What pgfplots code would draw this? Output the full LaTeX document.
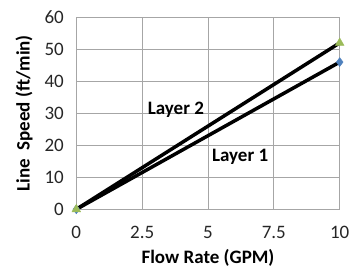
\documentclass[border=0pt]{standalone}
\usepackage{pgfplots}
\pgfplotsset{compat=1.18}
\usepackage{fontspec}
\setmainfont{Carlito}
\definecolor{gridc}{RGB}{166,166,166}
\definecolor{mblue}{RGB}{79,129,189}
\definecolor{mgreen}{RGB}{155,187,89}
\begin{document}
\fontsize{19}{22}\selectfont
\begin{tikzpicture}[x=1pt,y=1pt]
\path[use as bounding box] (-76.3pt,-58.7pt) rectangle (281.7pt,209.3pt);
\begin{axis}[
  at={(0,0)}, anchor=south west,
  scale only axis, width=263.4pt, height=192pt,
  xmin=0, xmax=10, ymin=0, ymax=60,
  xtick={0,2.5,5,7.5,10}, ytick={0,10,...,60},
  xticklabels={0,2.5,5,7.5,10},
  grid=major, major grid style={gridc, line width=0.9pt},
  axis line style={draw=none},
  tick style={draw=none},
  ticklabel style={font=\fontsize{19}{22}\selectfont, text=black!85},
  /pgf/number format/assume math mode=true,
  xticklabel style={anchor=center, yshift=-23.5pt},
  yticklabel style={xshift=-6pt},
  xlabel={\textbf{Flow Rate (GPM)}},
  ylabel={\textbf{Line~ Speed (ft/min)}},
  label style={font=\fontsize{19}{22}\selectfont\bfseries},
  xlabel style={at={(axis description cs:0.5,0)}, anchor=center, yshift=-48.5pt},
  ylabel style={yshift=-1pt},
  clip=false,
]
\addplot[only marks, mark=diamond*, mark size=4.5pt, color=mblue] coordinates {(0,0) (10,46)};
\addplot[only marks, mark=triangle*, mark size=5pt, color=mgreen] coordinates {(0,0) (10,52)};
\addplot[black, line width=3.5pt] coordinates {(0,0) (10,46)};
\addplot[black, line width=3.5pt] coordinates {(0,0) (10,52)};
\node[font=\fontsize{19}{22}\selectfont\bfseries] at (axis cs:3.78,31.0) {Layer 2};
\node[font=\fontsize{19}{22}\selectfont\bfseries] at (axis cs:6.22,16.4) {Layer 1};
\end{axis}
\end{tikzpicture}
\end{document}
